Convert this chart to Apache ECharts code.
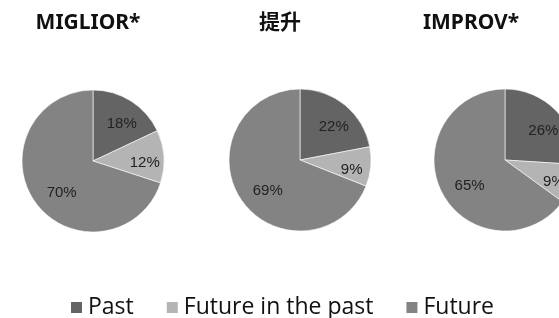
<html><head>
<meta charset="UTF-8">
<title>MIGLIOR / 提升 / IMPROV</title>
<style>
  body { margin: 0; background: #fff; }
  #chart { width: 559px; height: 318px; }
</style>
</head>
<body>
  <div id="chart"></div>
  <script src="https://cdn.jsdelivr.net/npm/echarts@6/dist/echarts.min.js"></script>
  <script>
    // data
    const categories = ['Past', 'Future in the past', 'Future'];
    const titles = ['MIGLIOR*', '提升', 'IMPROV*'];
    const miglior = [18, 12, 70];
    const tisheng = [22, 9, 69];
    const improv = [26, 9, 65];
    const colors = ['#646464', '#b4b4b4', '#838383'];

    const allValues = [miglior, tisheng, improv];
    const centers = [[93, 161], [300, 160], [505, 160]];
    const titleX = [88, 280, 471];
    const R = 71;

    const chart = echarts.init(document.getElementById('chart'));

    const series = [];
    allValues.forEach((vals, i) => {
      const data = vals.map((v, j) => ({ name: categories[j], value: v }));
      // the visible pie
      series.push({
        type: 'pie',
        center: centers[i],
        radius: [0, R],
        startAngle: 90,
        clockwise: true,
        silent: true,
        label: { show: false },
        labelLine: { show: false },
        itemStyle: { borderColor: '#fff', borderWidth: 0.6 },
        data: data
      });
      // transparent ring, only to place the labels further out
      series.push({
        type: 'pie',
        center: centers[i],
        radius: [R * 0.32, R],
        startAngle: 90,
        clockwise: true,
        silent: true,
        legendHoverLink: false,
        itemStyle: { color: 'transparent', borderWidth: 0 },
        label: {
          show: true,
          position: 'inner',
          formatter: '{c}%',
          fontFamily: 'Liberation Sans',
          fontSize: 15,
          color: '#222',
          offset: [2, 5]
        },
        labelLine: { show: false },
        // the big "Future" slice has its label pulled a bit toward the centre
        data: vals.map((v, j) => ({
          name: categories[j] + ' ',
          value: v,
          label: j === 2 ? { offset: [9, 3] } : undefined
        }))
      });
    });

    const option = {
      animation: false,
      color: colors,
      title: titles.map((t, i) => ({
        text: t,
        left: titleX[i],
        top: 13,
        padding: 0,
        textAlign: 'center',
        textStyle: {
          fontFamily: 'Noto Sans, Noto Sans CJK SC',
          fontWeight: 'bold',
          fontSize: 21,
          color: '#111'
        }
      })),
      legend: {
        data: categories,
        bottom: -6,
        left: 64,
        itemWidth: 13,
        itemHeight: 13,
        itemGap: 31,
        icon: 'rect',
        textStyle: {
          fontFamily: 'Open Sans',
          fontSize: 23,
          color: '#111'
        }
      },
      series: series
    };

    chart.setOption(option);
  </script>
</body></html>
